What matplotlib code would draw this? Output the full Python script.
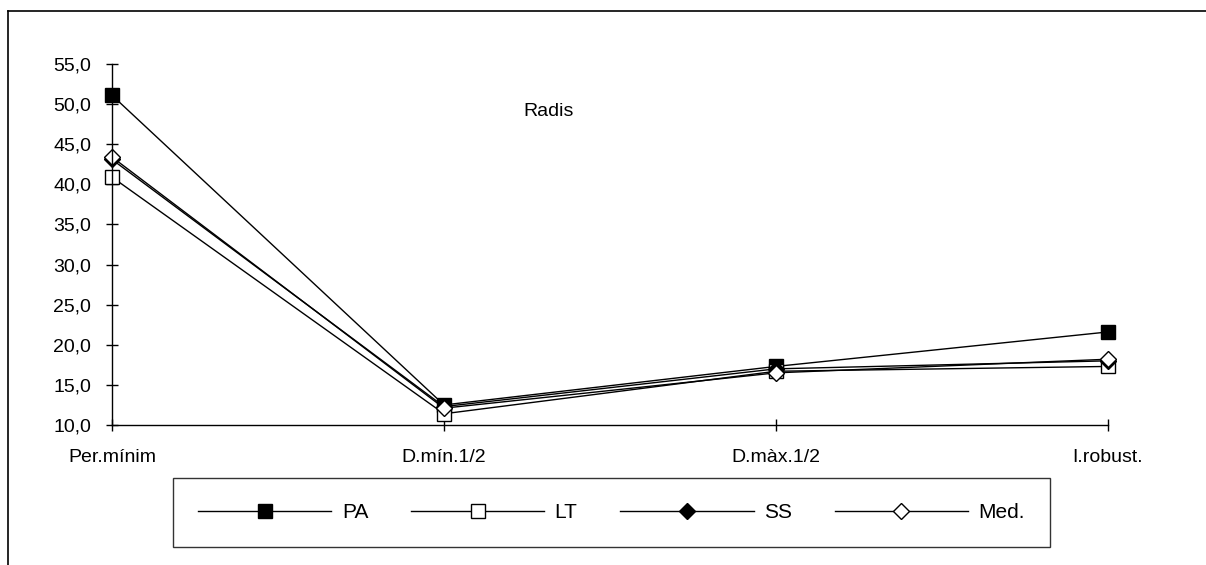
import matplotlib
matplotlib.use("Agg")
import matplotlib.pyplot as plt
from matplotlib.lines import Line2D
from matplotlib.ticker import FuncFormatter, FixedLocator

plt.rcParams['font.family'] = ['Liberation Sans', 'DejaVu Sans']

categories = ["Per.mínim", "D.mín.1/2", "D.màx.1/2", "I.robust."]
pa = [51.1, 12.5, 17.3, 21.6]
lt = [40.9, 11.4, 16.7, 17.3]
ss = [43.1, 12.3, 17.0, 18.0]
med = [43.4, 12.1, 16.5, 18.2]
series_names = ["PA", "LT", "SS", "Med."]
title = "Radis"
yticks = [10, 15, 20, 25, 30, 35, 40, 45, 50, 55]

W, H = 1206, 565
fig = plt.figure(figsize=(W / 100, H / 100), dpi=100)
ax = fig.add_axes([112 / W, 1 - 425 / H, (1108 - 112) / W, (425 - 64) / H])

x = list(range(len(categories)))
styles = [
    dict(marker='s', markerfacecolor='black', markeredgecolor='black', markersize=10.5),
    dict(marker='s', markerfacecolor='white', markeredgecolor='black', markersize=10.5),
    dict(marker='D', markerfacecolor='black', markeredgecolor='black', markersize=8.5),
    dict(marker='D', markerfacecolor='white', markeredgecolor='black', markersize=8.5),
]
for vals, name, st in zip([pa, lt, ss, med], series_names, styles):
    ax.plot(x, vals, color='black', linewidth=1.0, label=name, clip_on=False,
            markeredgewidth=1.0, **st)

ax.set_xlim(0, len(categories) - 1)
ax.set_ylim(10, 55)
ax.set_xticks(x)
ax.set_xticklabels(categories)
ax.yaxis.set_major_locator(FixedLocator(yticks))
ax.yaxis.set_major_formatter(FuncFormatter(lambda v, p: f"{v:.1f}".replace('.', ',')))

for s in ['top', 'right']:
    ax.spines[s].set_visible(False)
for s in ['left', 'bottom']:
    ax.spines[s].set_linewidth(1.0)
    ax.spines[s].set_color('black')

ax.tick_params(axis='y', direction='inout', length=8, width=1, pad=11, labelsize=14)
ax.tick_params(axis='x', direction='inout', length=8, width=1, pad=13, labelsize=14)

fig.text(549 / W, 1 - 111 / H, title, ha='center', va='center', fontsize=14)

leg = ax.legend(loc='center', ncol=4, bbox_to_anchor=(173 / W, 1 - 547 / H, (1050 - 173) / W, 69 / H),
                bbox_transform=fig.transFigure, mode='expand', frameon=True, fancybox=False,
                edgecolor='black', fontsize=15, handlelength=6.4, handletextpad=0.5,
                borderpad=1.2, borderaxespad=0, columnspacing=1.0)
leg.get_frame().set_linewidth(1.0)

# outer frame
fig.add_artist(Line2D([8 / W, 8 / W], [0, 1 - 11 / H], color='black', linewidth=1.2, transform=fig.transFigure))
fig.add_artist(Line2D([8 / W, 1], [1 - 11 / H, 1 - 11 / H], color='black', linewidth=1.2, transform=fig.transFigure))

fig.savefig("out.png", dpi=100, facecolor='white')
